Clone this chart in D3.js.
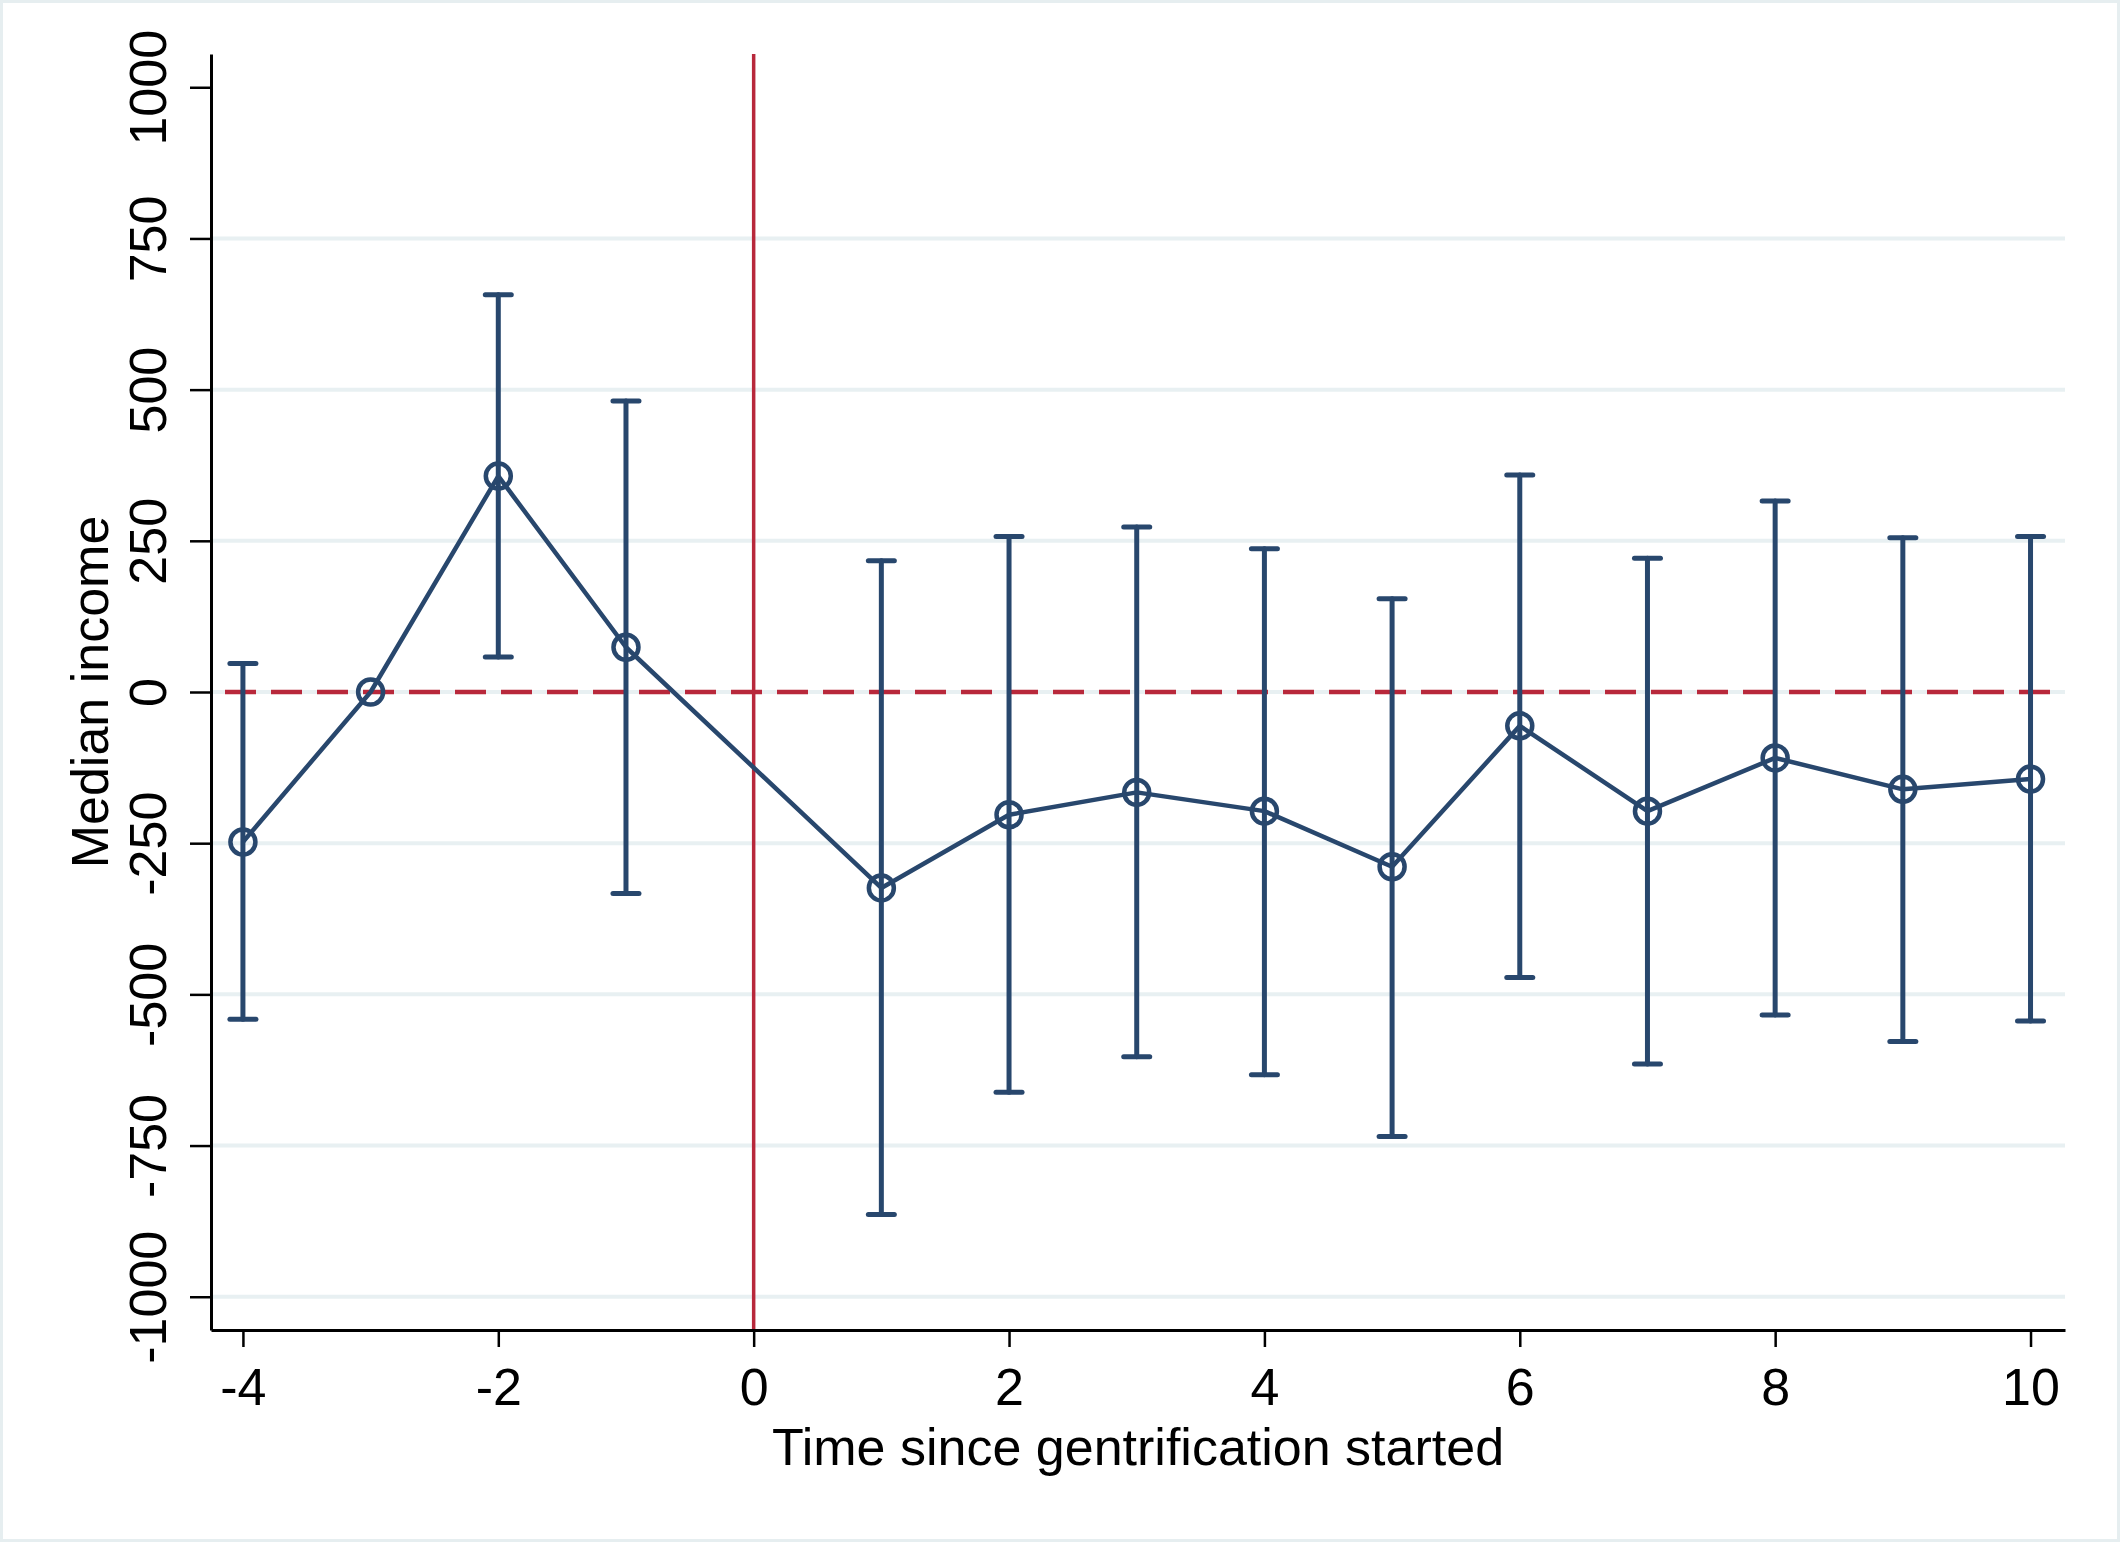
<!DOCTYPE html>
<html>
<head>
<meta charset="utf-8">
<script src="https://cdn.jsdelivr.net/npm/d3@7"></script>
<style>
  body { margin: 0; background: #fff; }
  svg { display: block; }
  text { font-family: "Liberation Sans", Arial, Helvetica, sans-serif; fill: #000; }
</style>
</head>
<body>
<div id="chart"></div>
<script>
// event-study estimates: time since gentrification started vs median income
const periods = [-4, -3, -2, -1, 1, 2, 3, 4, 5, 6, 7, 8, 9, 10];
const estimates = [-248, 0, 357, 74, -324, -203, -166, -197, -289, -56, -197, -109, -161, -144];
const ciUpper = [47, null, 657, 481, 217, 257, 273, 237, 154, 359, 221, 316, 255, 257];
const ciLower = [-541, null, 58, -333, -864, -662, -603, -633, -735, -472, -615, -534, -578, -544];
const xTicks = [-4, -2, 0, 2, 4, 6, 8, 10];
const yTicks = [-1000, -750, -500, -250, 0, 250, 500, 750, 1000];
const gridValues = [-1000, -750, -500, -250, 0, 250, 500, 750];

const width = 2120, height = 1542;
const plotLeft = 211, plotRight = 2065, plotTop = 54, plotBottom = 1330;
const navy = "#28476d", red = "#b8283b", grid = "#e8f0f2";

const svg = d3.select("#chart").append("svg")
  .attr("width", width)
  .attr("height", height);

// faint frame round the graph region
svg.append("rect")
  .attr("x", 1.5).attr("y", 1.5)
  .attr("width", width - 3).attr("height", height - 3)
  .attr("fill", "#fff")
  .attr("stroke", "#e6eef0")
  .attr("stroke-width", 3);

const x = d3.scaleLinear().domain([-4.25, 10.27]).range([plotLeft, plotRight]);
const y = d3.scaleLinear().domain([-1055, 1055]).range([plotBottom, plotTop]);

// gridlines
svg.append("g")
  .selectAll("line")
  .data(gridValues)
  .enter()
  .append("line")
  .attr("x1", plotLeft).attr("x2", plotRight)
  .attr("y1", d => y(d)).attr("y2", d => y(d))
  .attr("stroke", grid)
  .attr("stroke-width", 4);

// reference lines
svg.append("line")
  .attr("x1", plotLeft).attr("x2", plotRight)
  .attr("y1", y(0)).attr("y2", y(0))
  .attr("stroke", red)
  .attr("stroke-width", 4.5)
  .attr("stroke-dasharray", "31,15")
  .attr("stroke-dashoffset", -14);

svg.append("line")
  .attr("x1", x(0)).attr("x2", x(0))
  .attr("y1", plotTop).attr("y2", plotBottom)
  .attr("stroke", red)
  .attr("stroke-width", 3.5);

// axes
const xAxis = svg.append("g")
  .attr("transform", `translate(0,${plotBottom})`)
  .call(d3.axisBottom(x).tickValues(xTicks).tickSize(17).tickSizeOuter(0).tickFormat(d => String(d)));

xAxis.select(".domain").attr("stroke", "#000").attr("stroke-width", 3);
xAxis.selectAll(".tick line").attr("stroke", "#000").attr("stroke-width", 2.5);
xAxis.selectAll(".tick text")
  .attr("y", 75).attr("dy", 0)
  .style("font-size", "52px");

const yAxis = svg.append("g")
  .attr("transform", `translate(${plotLeft},0)`)
  .call(d3.axisLeft(y).tickValues(yTicks).tickSize(21).tickSizeOuter(0).tickFormat(d => String(d)));

yAxis.select(".domain").attr("stroke", "#000").attr("stroke-width", 3);
yAxis.selectAll(".tick line").attr("stroke", "#000").attr("stroke-width", 2.5);
yAxis.selectAll(".tick text")
  .attr("x", 0).attr("dy", 0)
  .attr("text-anchor", "middle")
  .attr("transform", "translate(-45,0) rotate(-90)")
  .style("font-size", "52px");

// axis titles
svg.append("text")
  .attr("x", (plotLeft + plotRight) / 2)
  .attr("y", 1465)
  .attr("text-anchor", "middle")
  .style("font-size", "52px")
  .text("Time since gentrification started");

svg.append("text")
  .attr("transform", `translate(108,${(plotTop + plotBottom) / 2}) rotate(-90)`)
  .attr("text-anchor", "middle")
  .style("font-size", "52px")
  .text("Median income");

// confidence intervals
const rows = periods.map((p, i) => ({ t: p, b: estimates[i], hi: ciUpper[i], lo: ciLower[i] }));
const withCi = rows.filter(d => d.hi !== null);

const bars = svg.append("g")
  .attr("stroke", navy)
  .attr("stroke-width", 5)
  .attr("stroke-linecap", "round");

bars.selectAll("line.v")
  .data(withCi)
  .enter()
  .append("line")
  .attr("class", "v")
  .attr("x1", d => x(d.t)).attr("x2", d => x(d.t))
  .attr("y1", d => y(d.hi)).attr("y2", d => y(d.lo));

const capHalf = 13;
["hi", "lo"].forEach(k => {
  bars.selectAll("line.cap-" + k)
    .data(withCi)
    .enter()
    .append("line")
    .attr("class", "cap-" + k)
    .attr("x1", d => x(d.t) - capHalf).attr("x2", d => x(d.t) + capHalf)
    .attr("y1", d => y(d[k])).attr("y2", d => y(d[k]));
});

// connected estimates
svg.append("path")
  .datum(rows)
  .attr("fill", "none")
  .attr("stroke", navy)
  .attr("stroke-width", 4.5)
  .attr("stroke-linejoin", "round")
  .attr("d", d3.line().x(d => x(d.t)).y(d => y(d.b)));

svg.append("g")
  .selectAll("circle")
  .data(rows)
  .enter()
  .append("circle")
  .attr("cx", d => x(d.t))
  .attr("cy", d => y(d.b))
  .attr("r", 12.5)
  .attr("fill", "none")
  .attr("stroke", navy)
  .attr("stroke-width", 4.5);
</script>
</body>
</html>
